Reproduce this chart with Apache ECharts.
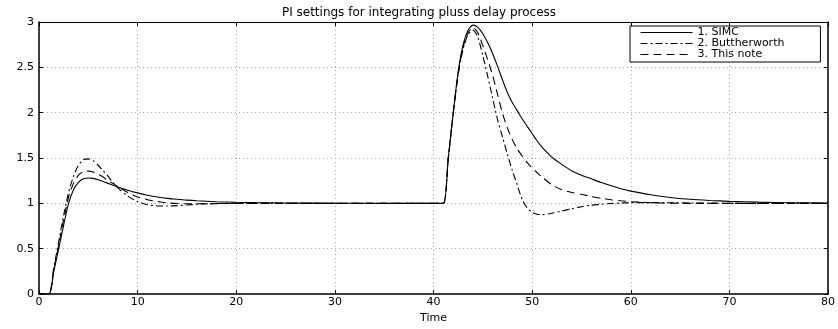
<!DOCTYPE html>
<html>
<head>
<meta charset="utf-8">
<script src="https://cdn.jsdelivr.net/npm/echarts@6/dist/echarts.min.js"></script>
<style>
html,body{margin:0;padding:0;background:#fff;}
#chart{width:838px;height:329px;}
</style>
</head>
<body>
<div id="chart"></div>
<script>
// ---- data ----
const titleText = 'PI settings for integrating pluss delay process';
const xLabel = 'Time';
const seriesNames = ['1. SIMC', '2. Buttherworth', '3. This note'];
const xTicks = [0, 10, 20, 30, 40, 50, 60, 70, 80];
const yTicks = [0, 0.5, 1, 1.5, 2, 2.5, 3];

const time = [0, 1, 1.5, 2, 2.5, 3, 3.5, 4, 4.5, 5, 5.5, 6, 6.5, 7, 7.5, 8, 9, 10, 11, 12, 13, 14, 15, 16, 18, 20, 22, 25, 30, 35, 40, 41,
  41.5, 42, 42.5, 43, 43.5, 44, 44.5, 45, 45.5, 46, 46.5, 47, 47.5, 48, 48.5, 49, 49.5, 50, 50.5, 51, 52, 53, 54, 55, 56, 57, 58, 59, 60,
  62, 64, 66, 68, 70, 73, 76, 80];

const simc = [0, 0, 0.25, 0.5, 0.76, 1.0, 1.15, 1.23, 1.27, 1.28, 1.275, 1.26, 1.24, 1.22, 1.2, 1.18, 1.145, 1.115, 1.09, 1.07, 1.055, 1.045, 1.035, 1.028, 1.018, 1.012, 1.008, 1.004, 1.001, 1.0, 1.0, 1.0,
  1.5, 2.0, 2.45, 2.75, 2.91, 2.965, 2.94, 2.87, 2.77, 2.65, 2.51, 2.36, 2.22, 2.11, 2.02, 1.93, 1.85, 1.77, 1.69, 1.62, 1.51, 1.43, 1.36, 1.31, 1.27, 1.23, 1.195, 1.16, 1.135,
  1.095, 1.065, 1.045, 1.032, 1.022, 1.013, 1.007, 1.004];

const butterworth = [0, 0, 0.29, 0.58, 0.87, 1.12, 1.3, 1.42, 1.48, 1.49, 1.47, 1.42, 1.36, 1.3, 1.23, 1.17, 1.08, 1.02, 0.985, 0.972, 0.97, 0.975, 0.982, 0.99, 0.998, 1.0, 1.0, 1.0, 1.0, 1.0, 1.0, 1.0,
  1.5, 1.99, 2.42, 2.7, 2.86, 2.91, 2.83, 2.63, 2.4, 2.16, 1.92, 1.73, 1.54, 1.36, 1.2, 1.04, 0.95, 0.9, 0.88, 0.875, 0.89, 0.915, 0.94, 0.962, 0.98, 0.99, 0.998, 1.003, 1.006,
  1.008, 1.006, 1.004, 1.002, 1.0, 1.0, 1.0, 1.0];

const thisNote = [0, 0, 0.27, 0.54, 0.82, 1.07, 1.22, 1.31, 1.35, 1.355, 1.345, 1.32, 1.29, 1.25, 1.22, 1.185, 1.12, 1.07, 1.04, 1.02, 1.005, 0.998, 0.995, 0.995, 0.997, 0.999, 1.0, 1.0, 1.0, 1.0, 1.0, 1.0,
  1.5, 1.99, 2.43, 2.72, 2.88, 2.94, 2.88, 2.74, 2.58, 2.41, 2.2, 1.99, 1.83, 1.7, 1.6, 1.52, 1.45, 1.39, 1.34, 1.29, 1.205, 1.15, 1.12, 1.1, 1.075, 1.055, 1.04, 1.028, 1.018,
  1.007, 1.002, 1.0, 1.0, 1.0, 1.0, 1.0, 1.0];

const pairs = ys => time.map((t, i) => [t, ys[i]]);

const FONT = 'DejaVu Sans';
const chart = echarts.init(document.getElementById('chart'), null, {renderer: 'canvas'});

const baseX = {
  type: 'value', min: xTicks[0], max: xTicks[xTicks.length - 1], interval: xTicks[1] - xTicks[0]
};
const baseY = {
  type: 'value', min: yTicks[0], max: yTicks[yTicks.length - 1], interval: yTicks[1] - yTicks[0]
};

chart.setOption({
  animation: false,
  backgroundColor: '#fff',
  title: {
    text: titleText,
    left: 'center',
    top: 2,
    textStyle: {fontFamily: FONT, fontSize: 12, fontWeight: 'normal', color: '#000'}
  },
  grid: {left: 39, right: 5, top: 22, bottom: 23, containLabel: false},
  legend: {
    orient: 'vertical',
    left: 630,
    top: 26,
    itemWidth: 52,
    itemHeight: 10,
    itemGap: 0,
    padding: [1, 36, 2, 10],
    borderColor: '#000',
    borderWidth: 1,
    borderRadius: 0,
    backgroundColor: '#fff',
    itemStyle: {opacity: 0},
    lineStyle: {width: 1},
    textStyle: {fontFamily: FONT, fontSize: 11, lineHeight: 10, color: '#000'},
    data: seriesNames
  },
  xAxis: [
    Object.assign({}, baseX, {
      position: 'bottom',
      name: xLabel,
      nameLocation: 'middle',
      nameGap: 19,
      nameTextStyle: {fontFamily: FONT, fontSize: 11, color: '#000'},
      axisLine: {show: true, onZero: false, lineStyle: {color: '#000', width: 1.5}},
      axisTick: {show: true, inside: true, length: 4, lineStyle: {color: '#000'}},
      axisLabel: {show: true, fontFamily: FONT, fontSize: 11, color: '#000', margin: 3},
      splitLine: {show: true, lineStyle: {color: '#aaa', type: [1, 3], width: 1}}
    }),
    Object.assign({}, baseX, {
      position: 'top',
      axisLine: {show: true, onZero: false, lineStyle: {color: '#000', width: 1}},
      axisTick: {show: true, inside: true, length: 4, lineStyle: {color: '#000'}},
      axisLabel: {show: false},
      splitLine: {show: false}
    })
  ],
  yAxis: [
    Object.assign({}, baseY, {
      position: 'left',
      axisLine: {show: true, onZero: false, lineStyle: {color: '#000', width: 1.5}},
      axisTick: {show: true, inside: true, length: 4, lineStyle: {color: '#000'}},
      axisLabel: {show: true, fontFamily: FONT, fontSize: 11, color: '#000', margin: 5},
      splitLine: {show: true, lineStyle: {color: '#aaa', type: [1, 3], width: 1}}
    }),
    Object.assign({}, baseY, {
      position: 'right',
      axisLine: {show: true, onZero: false, lineStyle: {color: '#000', width: 1.5}},
      axisTick: {show: true, inside: true, length: 4, lineStyle: {color: '#000'}},
      axisLabel: {show: false},
      splitLine: {show: false}
    })
  ],
  series: [
    {
      name: seriesNames[0], type: 'line', data: pairs(simc), symbol: 'none', smooth: 0.25,
      lineStyle: {color: '#000', width: 1.1, type: 'solid'}, itemStyle: {color: '#000'}, z: 3
    },
    {
      name: seriesNames[1], type: 'line', data: pairs(butterworth), symbol: 'none', smooth: 0.25,
      lineStyle: {color: '#000', width: 1.1, type: [7, 3, 2, 3]}, itemStyle: {color: '#000'}, z: 2
    },
    {
      name: seriesNames[2], type: 'line', data: pairs(thisNote), symbol: 'none', smooth: 0.25,
      lineStyle: {color: '#000', width: 1.1, type: [8, 5]}, itemStyle: {color: '#000'}, z: 2
    }
  ]
});
</script>
</body>
</html>
